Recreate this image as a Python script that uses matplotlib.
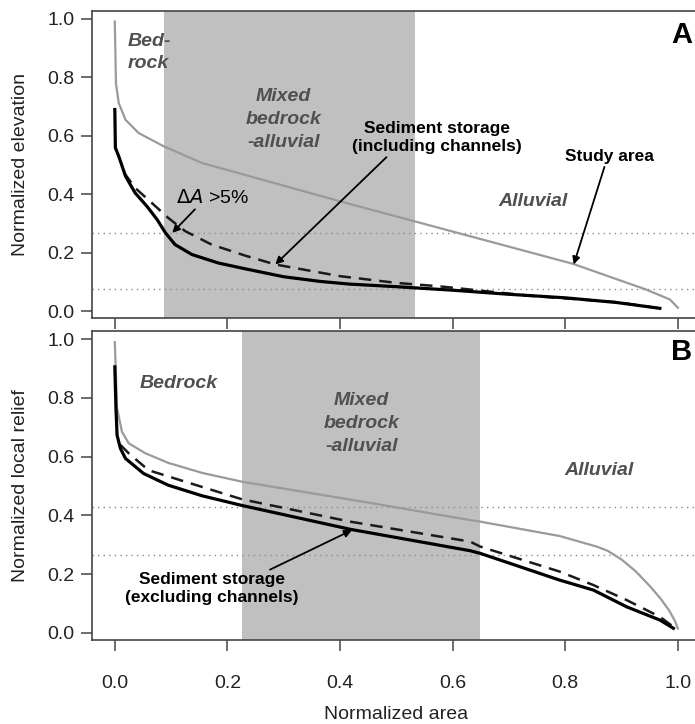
import numpy as np
import matplotlib
matplotlib.use("Agg")
import matplotlib.pyplot as plt

plt.rcParams['font.family'] = ['Liberation Sans', 'DejaVu Sans']

# ---- panel A: normalized elevation vs normalized area ----
a_study_x = [0.0, 0.002, 0.007, 0.019, 0.042, 0.087, 0.155, 0.232, 0.4, 0.578, 0.814, 0.944, 0.986, 1.0]
a_study_y = [0.991, 0.78, 0.712, 0.655, 0.61, 0.564, 0.507, 0.466, 0.376, 0.284, 0.162, 0.074, 0.04, 0.012]

a_inc_x = [0.0, 0.001, 0.007, 0.019, 0.036, 0.057, 0.075, 0.09, 0.107, 0.137, 0.184, 0.232,
           0.3, 0.365, 0.416, 0.5, 0.6, 0.7, 0.8, 0.891, 0.968]
a_inc_y = [0.69, 0.559, 0.53, 0.462, 0.405, 0.359, 0.314, 0.268, 0.228, 0.194, 0.165, 0.145,
           0.118, 0.102, 0.093, 0.084, 0.072, 0.058, 0.046, 0.03, 0.01]

a_exc_x = [0.016, 0.036, 0.066, 0.095, 0.125, 0.172, 0.232, 0.285, 0.4, 0.5, 0.578, 0.737, 0.891, 0.968]
a_exc_y = [0.475, 0.422, 0.37, 0.319, 0.274, 0.228, 0.19, 0.16, 0.12, 0.097, 0.085, 0.053, 0.031, 0.01]

a_zone = (0.0875, 0.533)
a_thresholds = [0.267, 0.075]

# ---- panel B: normalized local relief vs normalized area ----
b_study_x = [0.0, 0.004, 0.0127, 0.0246, 0.054, 0.095, 0.155, 0.226, 0.459, 0.613, 0.649, 0.79,
             0.856, 0.875, 0.9, 0.925, 0.95, 0.97, 0.985, 0.995, 1.0]
b_study_y = [0.99, 0.765, 0.685, 0.646, 0.612, 0.579, 0.545, 0.515, 0.441, 0.39, 0.379, 0.33,
             0.294, 0.28, 0.25, 0.21, 0.16, 0.115, 0.075, 0.04, 0.015]

b_inc_x = [0.0, 0.002, 0.004, 0.01, 0.019, 0.051, 0.095, 0.155, 0.226, 0.418, 0.631, 0.649,
           0.79, 0.85, 0.909, 0.968, 0.992]
b_inc_y = [0.906, 0.765, 0.673, 0.628, 0.594, 0.543, 0.503, 0.467, 0.434, 0.353, 0.28, 0.271,
           0.18, 0.146, 0.089, 0.044, 0.016]

b_exc_x = [0.01, 0.025, 0.06, 0.125, 0.226, 0.418, 0.631, 0.649, 0.79, 0.85, 0.909, 0.968, 0.992]
b_exc_y = [0.64, 0.611, 0.554, 0.515, 0.455, 0.379, 0.311, 0.294, 0.209, 0.163, 0.112, 0.055, 0.021]

b_zone = (0.225, 0.648)
b_thresholds = [0.43, 0.265]

xticks = [0.0, 0.2, 0.4, 0.6, 0.8, 1.0]
yticks = [0.0, 0.2, 0.4, 0.6, 0.8, 1.0]

shade = '#c0c0c0'
studycol = '#9a9a9a'
zonecol = '#505050'
framecol = '#444444'

fig = plt.figure(figsize=(6.95, 7.24), dpi=100)
axA = fig.add_axes([0.1328, 0.5604, 0.875, 0.4248])
axB = fig.add_axes([0.1328, 0.1160, 0.875, 0.4268])


def style(ax, ylabel, show_x):
    ax.set_xlim(-0.04, 1.04)
    ax.set_ylim(-0.024, 1.028)
    ax.set_xticks(xticks)
    ax.set_yticks(yticks)
    ax.set_yticklabels(['%.1f' % t for t in yticks])
    if show_x:
        ax.set_xticklabels(['%.1f' % t for t in xticks])
    else:
        ax.set_xticklabels([])
    ax.tick_params(axis='both', direction='out', length=8, width=1.1,
                   color=framecol, labelsize=14, labelcolor='#222222')
    ax.tick_params(axis='y', pad=5)
    ax.tick_params(axis='x', pad=17)
    for s in ax.spines.values():
        s.set_color(framecol)
        s.set_linewidth(1.2)
    ax.set_ylabel(ylabel, fontsize=14, color='#222222')
    ax.yaxis.set_label_coords(-0.104, 0.5)


def curves(ax, zone, thr, sx, sy, ix, iy, ex, ey):
    ax.axvspan(zone[0], zone[1], color=shade, lw=0, zorder=0)
    for t in thr:
        ax.axhline(t, color='#8a8a8a', lw=1.0, ls=(0, (1, 3)), zorder=1)
    ax.plot(sx, sy, color=studycol, lw=1.6, zorder=3)
    ax.plot(ex, ey, color='#1a1a1a', lw=1.8, ls=(0, (5, 3.2)), zorder=4)
    ax.plot(ix, iy, color='black', lw=2.3, zorder=5, solid_joinstyle='round')


# panel A
style(axA, 'Normalized elevation', False)
curves(axA, a_zone, a_thresholds, a_study_x, a_study_y,
       a_inc_x, a_inc_y, a_exc_x, a_exc_y)

zone_kw = dict(fontsize=14, fontweight='bold', fontstyle='italic', color=zonecol)
arrow_kw = dict(arrowstyle='-|>', color='black', lw=1.3, mutation_scale=11,
                shrinkA=0, shrinkB=0)

axA.text(0.022, 0.885, 'Bed-\nrock', ha='left', va='center', linespacing=1.4, **zone_kw)
axA.text(0.30, 0.655, 'Mixed\nbedrock\n-alluvial', ha='center', va='center',
         linespacing=1.45, **zone_kw)
axA.text(0.742, 0.375, 'Alluvial', ha='center', va='center', **zone_kw)
axA.text(1.007, 0.946, 'A', ha='center', va='center', fontsize=21, fontweight='bold')

axA.annotate(r'$\Delta\mathit{A}$ >5%', xy=(0.102, 0.268), xytext=(0.173, 0.389),
             ha='center', va='center', fontsize=14,
             arrowprops=dict(relpos=(0.3, 0.0), **arrow_kw))
axA.annotate('Sediment storage\n(including channels)', xy=(0.285, 0.16),
             xytext=(0.572, 0.593), ha='center', va='center', fontsize=12.5,
             fontweight='bold', linespacing=1.25,
             arrowprops=dict(relpos=(0.22, 0.0), **arrow_kw))
axA.annotate('Study area', xy=(0.815, 0.16), xytext=(0.879, 0.529),
             ha='center', va='center', fontsize=12.5, fontweight='bold',
             arrowprops=dict(relpos=(0.45, 0.0), **arrow_kw))

# panel B
style(axB, 'Normalized local relief', True)
curves(axB, b_zone, b_thresholds, b_study_x, b_study_y,
       b_inc_x, b_inc_y, b_exc_x, b_exc_y)

axB.text(0.113, 0.85, 'Bedrock', ha='center', va='center', **zone_kw)
axB.text(0.438, 0.714, 'Mixed\nbedrock\n-alluvial', ha='center', va='center',
         linespacing=1.45, **zone_kw)
axB.text(0.86, 0.554, 'Alluvial', ha='center', va='center', **zone_kw)
axB.text(1.007, 0.956, 'B', ha='center', va='center', fontsize=21, fontweight='bold')
axB.annotate('Sediment storage\n(excluding channels)', xy=(0.421, 0.35),
             xytext=(0.173, 0.15), ha='center', va='center', fontsize=12.5,
             fontweight='bold', linespacing=1.25,
             arrowprops=dict(relpos=(0.8, 1.0), **arrow_kw))

axB.set_xlabel('Normalized area', fontsize=14, color='#222222', labelpad=10)

fig.savefig('out.png', dpi=100)
